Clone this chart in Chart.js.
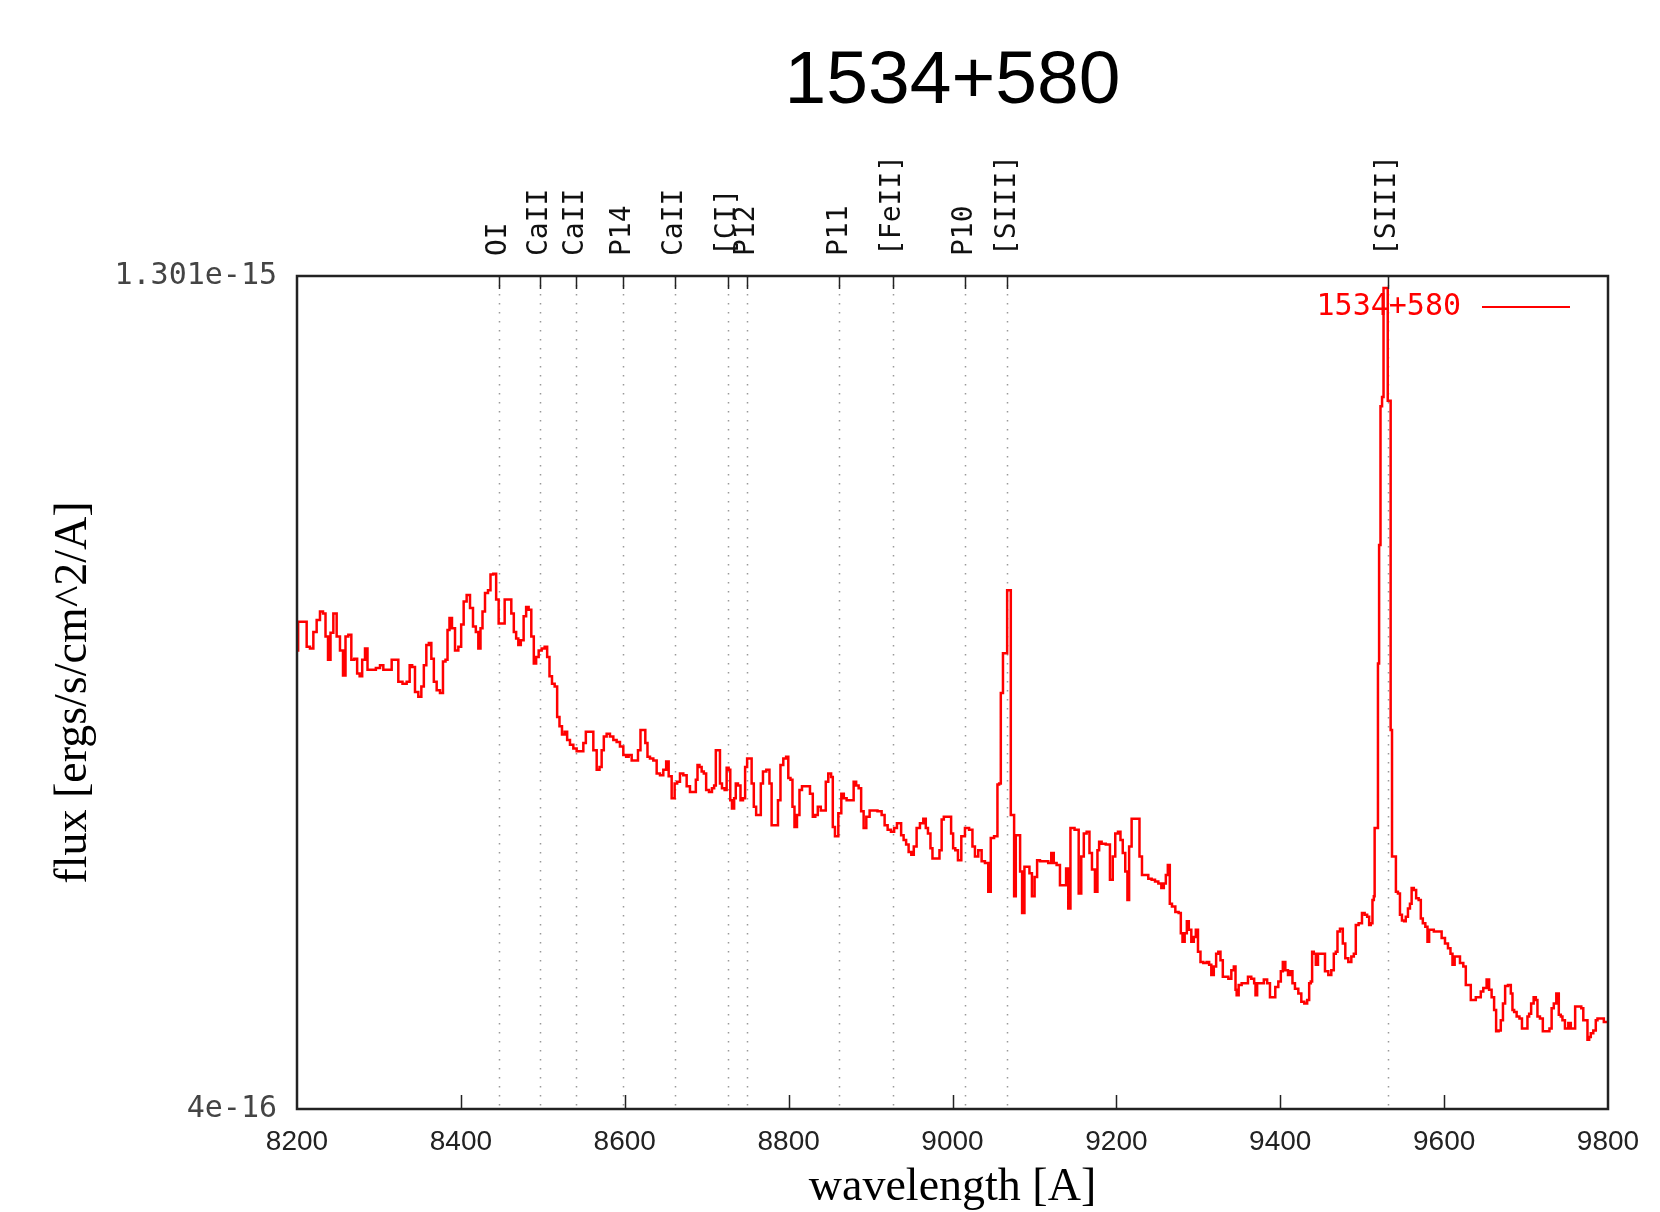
<!DOCTYPE html>
<html>
<head>
<meta charset="utf-8">
<title>1534+580</title>
<script src="https://cdn.jsdelivr.net/npm/chart.js@4.4.1/dist/chart.umd.min.js"></script>
<style>
  html, body { margin: 0; padding: 0; background: #fff; }
  #wrap { width: 1660px; height: 1212px; }
</style>
</head>
<body>
<div id="wrap"><canvas id="chart" width="1660" height="1212"></canvas></div>
<script>
var sourceName = '1534+580';

// spectrum: wavelength in A, flux in units of 1e-16 ergs/s/cm^2/A
var wavelength = [
  8200, 8202.8, 8209.8, 8213.8, 8217.9, 8222.0, 8226.0, 8230.1, 8233.4, 8236.2, 8239.5, 8242.3, 8246.4, 8250.4, 8254.5,
  8257.8, 8260.6, 8264.7, 8267.9, 8272.0, 8274.8, 8278.1, 8281.0, 8285.0, 8287.1, 8293.2, 8299.3, 8303.3, 8307.4, 8313.5,
  8317.6, 8321.6, 8325.7, 8331.8, 8335.9, 8339.1, 8342.0, 8346.0, 8350.1, 8353.4, 8356.2, 8359.5, 8362.3, 8365.6, 8368.4,
  8372.5, 8376.5, 8379.8, 8382.7, 8384.7, 8387.5, 8390.8, 8394.9, 8398.9, 8401.8, 8405.0, 8409.1, 8413.2, 8416.4, 8420.1,
  8422.5, 8425.4, 8427.4, 8431.5, 8434.7, 8437.6, 8441.6, 8444.5, 8447.7, 8451.8, 8455.1, 8459.9, 8463.2, 8466.0, 8468.9,
  8471.3, 8475.0, 8478.2, 8481.1, 8484.3, 8487.6, 8490.4, 8493.3, 8496.6, 8500.6, 8503.9, 8506.7, 8509.6, 8512.8, 8516.1,
  8518.9, 8521.8, 8525.0, 8528.3, 8531.1, 8535.2, 8539.3, 8543.3, 8547.4, 8551.5, 8553.5, 8559.6, 8563.7, 8567.8, 8570.6,
  8573.0, 8575.9, 8579.9, 8584.0, 8588.1, 8592.1, 8596.2, 8600.3, 8603.1, 8606.4, 8610.5, 8614.5, 8617.8, 8620.6, 8623.5,
  8626.7, 8628.8, 8632.8, 8636.9, 8641.0, 8645.0, 8649.1, 8652.0, 8655.2, 8659.3, 8662.5, 8665.4, 8669.4, 8673.5, 8677.6,
  8681.6, 8685.7, 8687.8, 8689.8, 8692.6, 8695.1, 8697.9, 8700.8, 8704.8, 8708.1, 8710.1, 8712.2, 8715.4, 8717.0, 8720.3,
  8723.5, 8725.2, 8728.4, 8729.2, 8732.5, 8734.5, 8736.5, 8739.8, 8742.7, 8745.9, 8747.9, 8750.8, 8753.6, 8756.1, 8758.9,
  8761.8, 8765.0, 8767.1, 8770.3, 8775.2, 8778.0, 8780.5, 8785.4, 8788.6, 8791.5, 8795.5, 8798.4, 8800.8, 8803.7, 8805.7,
  8808.6, 8811.8, 8814.7, 8817.9, 8824.0, 8828.1, 8830.9, 8834.2, 8837.0, 8841.5, 8844.3, 8846.4, 8850.4, 8853.3, 8854.5,
  8858.6, 8862.7, 8865.9, 8868.8, 8872.8, 8877.7, 8881.0, 8883.8, 8887.1, 8889.9, 8893.2, 8896.4, 8901.3, 8905.4, 8911.5,
  8915.5, 8918.8, 8922.9, 8926.9, 8930.6, 8933.8, 8935.9, 8938.7, 8942.0, 8944.8, 8948.1, 8951.3, 8954.2, 8958.2, 8962.3,
  8966.4, 8968.4, 8971.7, 8974.5, 8976.6, 8982.7, 8985.5, 8988.0, 8990.8, 8996.9, 8999.7, 9001.8, 9005.0, 9008.3, 9013.2,
  9017.2, 9023.3, 9025.4, 9029.4, 9033.5, 9037.6, 9041.6, 9045.7, 9047.7, 9053.8, 9055.9, 9057.9, 9060.0, 9063.2, 9066.1,
  9067.3, 9070.1, 9072.2, 9074.2, 9076.2, 9078.3, 9081.5, 9083.5, 9086.4, 9089.2, 9092.5, 9095.3, 9098.6, 9101.8, 9104.7,
  9108.8, 9114.9, 9118.9, 9122.2, 9125.0, 9129.1, 9133.2, 9137.2, 9140.1, 9142.5, 9145.4, 9152.5, 9155.5, 9158.8, 9161.7,
  9165.7, 9168.6, 9171.8, 9175.9, 9177.9, 9180.0, 9184.0, 9190.1, 9194.2, 9197.0, 9200.3, 9203.6, 9206.4, 9209.2, 9212.5,
  9214.5, 9216.6, 9220.6, 9226.8, 9229.6, 9232.9, 9236.9, 9241.0, 9245.1, 9249.2, 9253.2, 9256.5, 9259.3, 9261.4, 9264.2,
  9266.2, 9269.5, 9274.4, 9277.6, 9279.7, 9281.7, 9285.0, 9287.0, 9289.8, 9293.1, 9295.9, 9298.0, 9301.2, 9304.1, 9308.1,
  9312.2, 9314.2, 9317.5, 9320.3, 9323.2, 9325.6, 9328.5, 9331.3, 9334.6, 9338.7, 9341.9, 9344.8, 9346.0, 9347.6, 9350.9,
  9354.9, 9359.0, 9362.2, 9367.1, 9369.2, 9370.4, 9373.2, 9377.3, 9382.6, 9385.4, 9389.5, 9392.3, 9395.6, 9399.7, 9401.7,
  9404.6, 9407.8, 9411.1, 9413.9, 9415.9, 9420.0, 9424.1, 9427.3, 9431.4, 9434.3, 9436.3, 9438.3, 9439.5, 9442.4, 9444.4,
  9447.7, 9452.6, 9456.6, 9460.7, 9463.9, 9466.8, 9468.8, 9470.9, 9474.9, 9477.8, 9481.0, 9485.1, 9488.4, 9491.2, 9493.2,
  9498.1, 9501.4, 9504.6, 9507.5, 9509.5, 9511.5, 9513.6, 9514.8, 9515.6, 9518.9, 9519.6, 9521.7, 9523.0, 9525.5, 9526.6,
  9530.6, 9531.8, 9534.2, 9535.3, 9537.5, 9540.3, 9542.0, 9545.3, 9546.9, 9550.2, 9552.2, 9554.2, 9557.5, 9559.1, 9561.6,
  9564.4, 9567.3, 9570.5, 9572.6, 9575.4, 9578.7, 9580.7, 9582.7, 9586.0, 9588.8, 9594.9, 9599.0, 9603.1, 9606.3, 9609.2,
  9611.2, 9614.5, 9617.3, 9621.4, 9625.4, 9627.5, 9631.5, 9633.6, 9637.6, 9639.7, 9643.7, 9645.8, 9649.8, 9653.9, 9655.9,
  9660.0, 9662.0, 9664.9, 9668.1, 9670.2, 9673.4, 9675.5, 9680.4, 9682.4, 9684.4, 9686.5, 9690.5, 9693.4, 9696.6, 9700.7,
  9702.7, 9704.8, 9707.6, 9710.9, 9712.9, 9714.9, 9719.0, 9721.9, 9727.1, 9730.0, 9732.4, 9735.3, 9738.5, 9741.4, 9743.4,
  9745.4, 9749.5, 9753.6, 9755.6, 9758.9, 9760.9, 9765.8, 9769.0, 9770.7, 9773.9, 9776.0, 9778.0, 9780.0, 9784.1, 9786.1,
  9788.2, 9793.5, 9796.3, 9800
];
var flux = [
  8.96, 9.27, 9.27, 9.00, 8.98, 9.16, 9.29, 9.38, 9.36, 9.11, 8.86, 9.15, 9.36, 9.11, 8.96,
  8.69, 9.11, 9.13, 8.86, 8.87, 8.71, 8.68, 8.86, 8.98, 8.75, 8.75, 8.77, 8.80, 8.75, 8.75,
  8.86, 8.86, 8.62, 8.60, 8.62, 8.80, 8.78, 8.51, 8.46, 8.57, 8.80, 9.02, 9.04, 8.87, 8.62,
  8.53, 8.50, 8.84, 8.86, 9.18, 9.31, 9.20, 8.96, 9.00, 9.24, 9.49, 9.56, 9.42, 9.22, 9.16,
  8.98, 9.20, 9.38, 9.58, 9.61, 9.78, 9.79, 9.51, 9.25, 9.25, 9.51, 9.51, 9.36, 9.16, 9.09,
  9.02, 9.07, 9.33, 9.43, 9.40, 9.11, 8.82, 8.89, 8.96, 8.98, 9.00, 8.89, 8.68, 8.60, 8.57,
  8.24, 8.14, 8.05, 8.08, 7.99, 7.94, 7.90, 7.87, 7.87, 7.96, 8.08, 8.08, 7.88, 7.67, 7.70,
  7.88, 8.03, 8.06, 8.03, 7.99, 7.97, 7.92, 7.83, 7.81, 7.83, 7.77, 7.77, 7.88, 8.10, 8.10,
  7.96, 7.81, 7.79, 7.77, 7.63, 7.61, 7.67, 7.76, 7.60, 7.36, 7.52, 7.54, 7.63, 7.61, 7.49,
  7.43, 7.43, 7.56, 7.72, 7.70, 7.65, 7.63, 7.45, 7.43, 7.47, 7.50, 7.88, 7.88, 7.52, 7.47,
  7.45, 7.69, 7.67, 7.34, 7.25, 7.36, 7.52, 7.50, 7.34, 7.36, 7.70, 7.79, 7.79, 7.52, 7.27,
  7.18, 7.18, 7.52, 7.65, 7.67, 7.52, 7.07, 7.07, 7.34, 7.72, 7.79, 7.81, 7.58, 7.56, 7.27,
  7.05, 7.18, 7.45, 7.49, 7.49, 7.41, 7.16, 7.18, 7.27, 7.23, 7.23, 7.54, 7.63, 7.59, 7.05,
  6.95, 7.20, 7.41, 7.36, 7.34, 7.34, 7.54, 7.50, 7.47, 7.22, 7.04, 7.16, 7.23, 7.23, 7.22,
  7.18, 7.07, 7.02, 7.00, 7.04, 7.09, 7.09, 6.96, 6.91, 6.86, 6.78, 6.75, 6.84, 7.04, 7.09,
  7.14, 7.04, 6.98, 6.82, 6.71, 6.71, 6.80, 7.13, 7.16, 7.16, 6.98, 6.82, 6.80, 6.69, 6.95,
  7.04, 7.02, 6.84, 6.73, 6.80, 6.68, 6.66, 6.35, 6.93, 6.95, 7.51, 7.52, 8.50, 8.93, 8.93,
  9.61, 9.61, 7.18, 7.18, 6.30, 6.96, 6.96, 6.57, 6.12, 6.62, 6.62, 6.55, 6.30, 6.51, 6.69,
  6.68, 6.68, 6.66, 6.77, 6.66, 6.64, 6.42, 6.42, 6.60, 6.17, 7.04, 7.02, 6.33, 6.73, 6.98,
  7.00, 6.77, 6.59, 6.35, 6.80, 6.89, 6.87, 6.86, 6.48, 6.73, 6.98, 7.00, 6.91, 6.77, 6.57,
  6.26, 6.84, 7.14, 7.14, 6.73, 6.53, 6.53, 6.49, 6.48, 6.46, 6.44, 6.39, 6.44, 6.53, 6.64,
  6.22, 6.19, 6.13, 6.12, 5.90, 5.81, 5.90, 6.03, 5.94, 5.81, 5.86, 5.94, 5.70, 5.59, 5.58,
  5.59, 5.56, 5.45, 5.54, 5.68, 5.70, 5.61, 5.43, 5.43, 5.41, 5.50, 5.54, 5.29, 5.23, 5.34,
  5.36, 5.36, 5.43, 5.41, 5.36, 5.23, 5.36, 5.36, 5.40, 5.36, 5.21, 5.21, 5.32, 5.38, 5.49,
  5.59, 5.50, 5.45, 5.49, 5.36, 5.30, 5.25, 5.16, 5.14, 5.18, 5.36, 5.38, 5.70, 5.68, 5.56,
  5.68, 5.68, 5.49, 5.45, 5.50, 5.68, 5.70, 5.92, 5.95, 5.79, 5.63, 5.59, 5.65, 5.68, 5.99,
  6.01, 6.12, 6.10, 6.08, 5.99, 6.01, 6.26, 6.30, 7.04, 7.04, 8.82, 10.10, 11.60, 11.70, 12.88,
  12.88, 11.66, 11.66, 8.10, 6.73, 6.73, 6.35, 6.33, 6.10, 6.04, 6.03, 6.08, 6.17, 6.22, 6.39,
  6.37, 6.28, 6.26, 6.06, 6.01, 5.97, 5.81, 5.94, 5.94, 5.92, 5.92, 5.85, 5.79, 5.74, 5.68,
  5.56, 5.65, 5.65, 5.58, 5.54, 5.34, 5.34, 5.18, 5.18, 5.21, 5.21, 5.27, 5.31, 5.40, 5.29,
  5.21, 5.07, 4.84, 4.85, 4.96, 5.14, 5.33, 5.34, 5.25, 5.07, 5.05, 5.00, 4.98, 4.87, 4.87,
  5.00, 5.03, 5.14, 5.21, 5.18, 5.00, 4.98, 4.84, 4.84, 4.87, 5.09, 5.14, 5.25, 5.02, 5.00,
  4.96, 4.87, 4.93, 4.87, 4.87, 5.11, 5.11, 5.09, 4.96, 4.96, 4.75, 4.78, 4.82, 4.85, 4.96,
  4.98, 4.98, 4.94, 4.94
];
var fluxUnit = 1e-16;

// marked emission lines
var lineWavelengths = [8446, 8496, 8540, 8598, 8661, 8726, 8749, 8862, 8927, 9015, 9067, 9531];
var lineNames = ['OI', 'CaII', 'CaII', 'P14', 'CaII', '[CI]', 'P12', 'P11', '[FeII]', 'P10', '[SIII]', '[SIII]'];

var xTickValues = [8200, 8400, 8600, 8800, 9000, 9200, 9400, 9600, 9800];
var xTickLabels = ['8200', '8400', '8600', '8800', '9000', '9200', '9400', '9600', '9800'];
var yTickValues = [4e-16, 1.301e-15];
var yTickLabels = ['4e-16', '1.301e-15'];

var points = [];
for (var i = 0; i < wavelength.length; i++) {
    points.push({ x: wavelength[i], y: flux[i] * fluxUnit });
}

var monoFont = "'DejaVu Sans Mono', 'Liberation Mono', monospace";

// dotted line markers, inward ticks, frame and the gnuplot-like key
var spectrumDecor = {
    id: 'spectrumDecor',
    beforeDatasetsDraw: function(chart) {
        var ctx = chart.ctx;
        var area = chart.chartArea;
        var xs = chart.scales.x;
        ctx.save();
        ctx.strokeStyle = '#999';
        ctx.lineWidth = 1.5;
        ctx.setLineDash([1.5, 7.5]);
        for (var i = 0; i < lineWavelengths.length; i++) {
            var x = Math.round(xs.getPixelForValue(lineWavelengths[i])) + 0.5;
            ctx.beginPath();
            ctx.moveTo(x, area.top);
            ctx.lineTo(x, area.bottom);
            ctx.stroke();
        }
        ctx.restore();
    },
    afterDraw: function(chart) {
        var ctx = chart.ctx;
        var area = chart.chartArea;
        var xs = chart.scales.x;
        var i, x;
        ctx.save();

        // frame
        ctx.strokeStyle = '#222';
        ctx.lineWidth = 2.5;
        ctx.strokeRect(area.left, area.top, area.right - area.left, area.bottom - area.top);

        // inward ticks
        ctx.lineWidth = 1.5;
        ctx.beginPath();
        for (i = 1; i < xTickValues.length - 1; i++) {
            x = Math.round(xs.getPixelForValue(xTickValues[i])) + 0.5;
            ctx.moveTo(x, area.bottom);
            ctx.lineTo(x, area.bottom - 14);
        }
        for (i = 0; i < lineWavelengths.length; i++) {
            x = Math.round(xs.getPixelForValue(lineWavelengths[i])) + 0.5;
            ctx.moveTo(x, area.top);
            ctx.lineTo(x, area.top + 13);
        }
        ctx.stroke();

        // line names, rotated
        ctx.fillStyle = '#111';
        ctx.font = '28px ' + monoFont;
        ctx.textAlign = 'left';
        ctx.textBaseline = 'middle';
        for (i = 0; i < lineWavelengths.length; i++) {
            x = xs.getPixelForValue(lineWavelengths[i]);
            ctx.save();
            ctx.translate(x, area.top - 20);
            ctx.rotate(-Math.PI / 2);
            ctx.fillText(lineNames[i], 0, 0);
            ctx.restore();
        }

        // key
        var ds = chart.data.datasets[0];
        var keyY = area.top + 31;
        var lineEnd = area.right - 38;
        var lineStart = lineEnd - 88;
        ctx.strokeStyle = ds.borderColor;
        ctx.lineWidth = 2;
        ctx.beginPath();
        ctx.moveTo(lineStart, keyY);
        ctx.lineTo(lineEnd, keyY);
        ctx.stroke();
        ctx.fillStyle = ds.borderColor;
        ctx.font = '30px ' + monoFont;
        ctx.textAlign = 'right';
        ctx.fillText(ds.label, lineStart - 21, keyY);

        ctx.restore();
    }
};

new Chart(document.getElementById('chart'), {
    type: 'line',
    data: {
        datasets: [{
            label: sourceName,
            data: points,
            borderColor: '#ff0000',
            borderWidth: 2.5,
            pointRadius: 0,
            stepped: 'middle',
            fill: false
        }]
    },
    options: {
        responsive: false,
        animation: false,
        devicePixelRatio: 1,
        layout: { padding: { left: 0, right: 52, top: 0, bottom: 0 } },
        plugins: {
            legend: { display: false },
            tooltip: { enabled: false },
            title: {
                display: true,
                text: sourceName,
                fullSize: false,
                color: '#000',
                font: { family: "'Liberation Sans', Arial, sans-serif", size: 75, weight: 'normal', lineHeight: 1.2 },
                padding: { top: 37, bottom: 149 }
            }
        },
        scales: {
            x: {
                type: 'linear',
                min: 8200,
                max: 9800,
                grid: { display: false, drawTicks: false },
                border: { display: false },
                afterBuildTicks: function(scale) {
                    scale.ticks = xTickValues.map(function(v) { return { value: v }; });
                },
                afterFit: function(scale) { scale.height = 103; },
                ticks: {
                    autoSkip: false,
                    maxRotation: 0,
                    padding: 16,
                    color: '#222',
                    font: { family: "'Liberation Sans', Arial, sans-serif", size: 28 },
                    callback: function(value, index) { return xTickLabels[index]; }
                },
                title: {
                    display: true,
                    text: 'wavelength [A]',
                    color: '#000',
                    font: { family: "'Liberation Serif', 'Times New Roman', serif", size: 46, lineHeight: 1 },
                    padding: { top: 0, bottom: 1 }
                }
            },
            y: {
                type: 'linear',
                min: 4e-16,
                max: 1.301e-15,
                grid: { display: false, drawTicks: false },
                border: { display: false },
                afterBuildTicks: function(scale) {
                    scale.ticks = yTickValues.map(function(v) { return { value: v }; });
                },
                afterFit: function(scale) { scale.width = 297; },
                ticks: {
                    autoSkip: false,
                    padding: 20,
                    color: '#444',
                    font: { family: monoFont, size: 30 },
                    callback: function(value, index) { return yTickLabels[index]; }
                },
                title: {
                    display: true,
                    text: 'flux [ergs/s/cm^2/A]',
                    color: '#000',
                    font: { family: "'Liberation Serif', 'Times New Roman', serif", size: 46, lineHeight: 1.2 },
                    padding: { top: 46, bottom: 0 }
                }
            }
        }
    },
    plugins: [spectrumDecor]
});
</script>
</body>
</html>
